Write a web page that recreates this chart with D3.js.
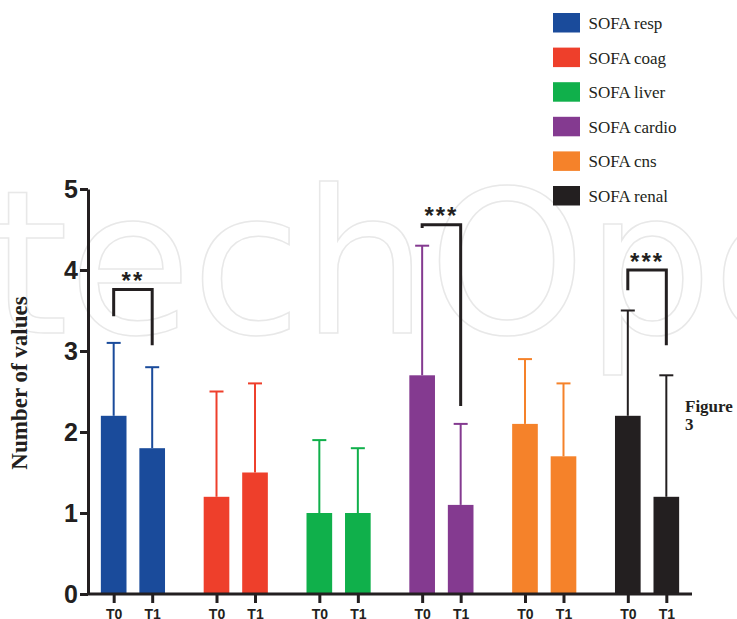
<!DOCTYPE html>
<html>
<head>
<meta charset="utf-8">
<script src="https://cdn.jsdelivr.net/npm/d3@7"></script>
<style>
  body { margin: 0; background: #fff; }
  svg { display: block; }
  .axis text { font-family: "Liberation Sans", Arial, sans-serif; font-weight: bold; fill: #231f20; }
  .axis line, .axis path { stroke: #231f20; stroke-width: 3; }
</style>
</head>
<body>
<div class="chart"></div>
<script>
// SOFA sub-scores, mean with upper whisker, T0 vs T1
const categories = ["SOFA resp", "SOFA coag", "SOFA liver", "SOFA cardio", "SOFA cns", "SOFA renal"];
const timepoints = ["T0", "T1"];
const meanT0  = [2.2, 1.2, 1.0, 2.7, 2.1, 2.2];
const meanT1  = [1.8, 1.5, 1.0, 1.1, 1.7, 1.2];
const upperT0 = [3.1, 2.5, 1.9, 4.3, 2.9, 3.5];
const upperT1 = [2.8, 2.6, 1.8, 2.1, 2.6, 2.7];
const colors = ["#1a4b9b", "#ee3f2b", "#10b04b", "#843a90", "#f5822a", "#231f20"];
const yTicks = [0, 1, 2, 3, 4, 5];

// significance brackets (values in axis units)
const sigCategories = ["SOFA resp", "SOFA cardio", "SOFA renal"];
const sigTop   = [3.76, 4.56, 4.0];
const sigLeft  = [3.43, 4.52, 3.75];
const sigRight = [3.07, 2.32, 3.07];
const sigLabels = ["**", "***", "***"];

// margin convention
const margin = {top: 189, right: 45, bottom: 25, left: 88};
const width = 737 - margin.left - margin.right,
      height = 619 - margin.top - margin.bottom;

const svg = d3.select(".chart").append("svg")
    .attr("width", 737)
    .attr("height", 619);

// faint publisher watermark behind everything
svg.append("text")
    .attr("x", -10)
    .attr("y", 333)
    .attr("font-family", "DejaVu Sans, sans-serif")
    .attr("font-size", 200)
    .attr("fill", "none")
    .attr("stroke", "#e8e8e8")
    .attr("stroke-width", 1.5)
    .text("techOpen");

const g = svg.append("g")
    .attr("transform", `translate(${margin.left},${margin.top})`);

// scales
const x0 = d3.scaleBand().domain(categories).range([0, width])
    .paddingInner(0.376).paddingOuter(0.125);
const x1 = d3.scaleBand().domain(timepoints).range([0, x0.bandwidth()])
    .paddingInner(0.334);
const y = d3.scaleLinear().domain([0, 5]).range([height, 0]);

const rows = categories.flatMap((c, i) => [
    {cat: c, t: "T0", mean: meanT0[i], upper: upperT0[i], color: colors[i]},
    {cat: c, t: "T1", mean: meanT1[i], upper: upperT1[i], color: colors[i]}
]);
const cx = d => x0(d.cat) + x1(d.t) + x1.bandwidth() / 2;

// bars
g.selectAll(".bar").data(rows).join("rect")
    .attr("class", "bar")
    .attr("x", d => x0(d.cat) + x1(d.t))
    .attr("width", x1.bandwidth())
    .attr("y", d => y(d.mean))
    .attr("height", d => y(0) - y(d.mean))
    .attr("fill", d => d.color);

// error whiskers (upper only shows above the bar)
const err = g.selectAll(".err").data(rows).join("g").attr("class", "err")
    .attr("stroke", d => d.color).attr("stroke-width", 2);
err.append("line")
    .attr("x1", cx).attr("x2", cx)
    .attr("y1", d => y(d.mean)).attr("y2", d => y(d.upper));
err.append("line")
    .attr("x1", d => cx(d) - 7).attr("x2", d => cx(d) + 7)
    .attr("y1", d => y(d.upper)).attr("y2", d => y(d.upper));

// axes
const yAxis = d3.axisLeft(y).tickValues(yTicks).tickFormat(d3.format("d"))
    .tickSize(8).tickSizeOuter(0).tickPadding(2);
g.append("g").attr("class", "axis y-axis").call(yAxis)
    .selectAll("text").attr("font-size", 25);

const keys = rows.map(d => d.cat + "|" + d.t);
const xTick = d3.scaleOrdinal().domain(keys).range(rows.map(cx));
const xAxis = d3.axisBottom(xTick).tickSize(9).tickPadding(6).tickFormat(k => k.split("|")[1]);
const xAxisSVG = g.append("g").attr("class", "axis x-axis")
    .attr("transform", `translate(0,${height})`)
    .call(xAxis);
xAxisSVG.select(".domain").remove();
xAxisSVG.selectAll("text").attr("font-size", 14);
xAxisSVG.append("line")
    .attr("x1", 0).attr("x2", width)
    .attr("y1", 0).attr("y2", 0);

// significance brackets
sigCategories.forEach((c, i) => {
    const xl = x0(c) + x1("T0") + x1.bandwidth() / 2;
    const xr = x0(c) + x1("T1") + x1.bandwidth() / 2;
    g.append("path")
        .attr("d", `M${xl},${y(sigLeft[i])}V${y(sigTop[i])}H${xr}V${y(sigRight[i])}`)
        .attr("fill", "none")
        .attr("stroke", "#231f20")
        .attr("stroke-width", 3);
    g.append("text")
        .attr("x", (xl + xr) / 2)
        .attr("y", y(sigTop[i]) - 0.5)
        .attr("text-anchor", "middle")
        .attr("font-family", "Liberation Sans, Arial, sans-serif")
        .attr("font-weight", "bold")
        .attr("font-size", 24)
        .attr("letter-spacing", 2)
        .attr("fill", "#231f20")
        .text(sigLabels[i]);
});

// y label
svg.append("text")
    .attr("transform", "translate(27,383) rotate(-90)")
    .attr("text-anchor", "middle")
    .attr("font-family", "Liberation Serif, Times New Roman, serif")
    .attr("font-weight", "bold")
    .attr("font-size", 23)
    .attr("fill", "#231f20")
    .text("Number of values");

// legend
const legend = svg.append("g").attr("transform", "translate(553,13)");
const item = legend.selectAll(".item").data(categories).join("g")
    .attr("class", "item")
    .attr("transform", (d, i) => `translate(0,${i * 34.6})`);
item.append("rect")
    .attr("width", 27).attr("height", 19.5)
    .attr("fill", (d, i) => colors[i]);
item.append("text")
    .attr("x", 35.5).attr("y", 16)
    .attr("font-family", "Liberation Serif, Times New Roman, serif")
    .attr("font-size", 17)
    .attr("fill", "#231f20")
    .text(d => d);

// figure caption on the right
const cap = svg.append("text")
    .attr("font-family", "Liberation Serif, Times New Roman, serif")
    .attr("font-weight", "bold")
    .attr("font-size", 17)
    .attr("fill", "#231f20");
cap.append("tspan").attr("x", 685).attr("y", 411.5).text("Figure");
cap.append("tspan").attr("x", 685).attr("y", 430).text("3");
</script>
</body>
</html>
